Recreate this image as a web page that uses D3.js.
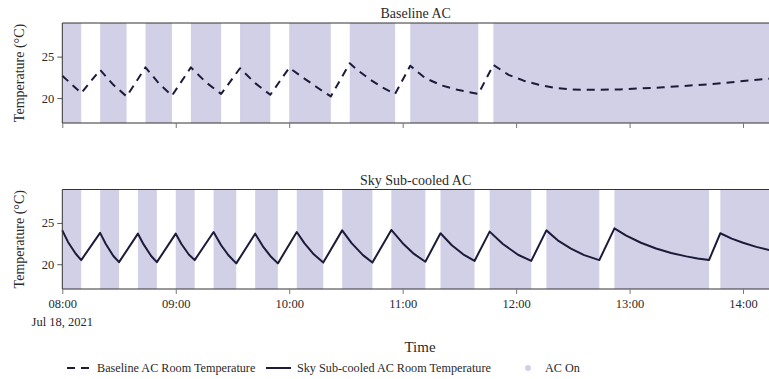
<!DOCTYPE html>
<html><head><meta charset="utf-8">
<script src="https://cdn.jsdelivr.net/npm/d3@7"></script>
<style>body{margin:0;background:#fff}svg{display:block}text{font-family:"Liberation Serif","Times New Roman",serif;fill:#2a2a2a}</style>
</head><body><svg id="c" width="769" height="379"></svg>
<script>
const baselineTimes = ["08:00","08:10","08:20","08:27","08:34","08:44","08:51","08:58","09:08","09:16","09:24","09:34","09:42","09:50","10:00","10:09","10:16","10:22","10:32","10:36","10:43","10:50","10:56","11:04","11:12","11:21","11:29","11:40","11:48","11:56","12:04","12:12","12:20","12:29","12:37","12:55","13:18","13:44","14:14"];
const baselineTemps = [22.7,20.6,23.4,21.6,20.2,23.7,21.8,20.3,23.7,21.9,20.5,23.6,21.8,20.4,23.65,22.2,21.1,20.2,24.2,23.4,22.2,21.2,20.5,23.9,22.4,21.5,21.0,20.5,24.0,22.8,22.1,21.6,21.25,21.05,21.0,21.05,21.3,21.7,22.35];
const skyTimes = ["08:00","08:03","08:07","08:10","08:20","08:23","08:27","08:30","08:40","08:43","08:47","08:50","09:00","09:03","09:07","09:10","09:20","09:24","09:28","09:32","09:42","09:46","09:50","09:54","10:04","10:08","10:13","10:18","10:28","10:33","10:39","10:44","10:54","11:00","11:06","11:12","11:20","11:26","11:32","11:38","11:46","11:53","12:01","12:08","12:16","12:22","12:29","12:36","12:44","12:52","12:58","13:06","13:14","13:22","13:30","13:36","13:42","13:48","13:54","14:00","14:07","14:14"];
const skyTemps = [24.1,22.7,21.3,20.5,23.8,22.45,21.0,20.25,23.7,22.4,21.0,20.25,23.7,22.45,21.15,20.5,23.9,22.3,21.05,20.1,23.7,22.2,21.0,20.1,23.9,22.55,21.2,20.2,24.1,22.55,21.1,20.2,24.15,22.55,21.25,20.3,23.75,22.3,21.2,20.4,23.95,22.45,21.15,20.4,24.1,22.9,21.9,21.1,20.5,24.35,23.5,22.6,21.9,21.35,20.95,20.7,20.5,23.75,23.1,22.6,22.1,21.7];
const baselineOnStart = ["08:00","08:20","08:44","09:08","09:34","10:00","10:32","11:04","11:48"];
const baselineOnEnd   = ["08:10","08:34","08:58","09:24","09:50","10:22","10:56","11:40","14:14"];
const skyOnStart = ["08:00","08:20","08:40","09:00","09:20","09:42","10:04","10:28","10:54","11:20","11:46","12:16","12:52","13:48"];
const skyOnEnd   = ["08:10","08:30","08:50","09:10","09:32","09:54","10:18","10:44","11:12","11:38","12:08","12:44","13:42","14:14"];
const yTicks = [20, 25];
const xTickTimes = ["08:00","09:00","10:00","11:00","12:00","13:00","14:00"];
const panelTitles = ["Baseline AC", "Sky Sub-cooled AC"];
const legendLabels = ["Baseline AC Room Temperature", "Sky Sub-cooled AC Room Temperature", "AC On"];

const parse = s => d3.timeParse("%Y-%m-%d %H:%M")("2021-07-18 " + s);
const svg = d3.select("#c");
const shade = "#d1d0e7", lineCol = "#1c1b3a", axisCol = "#333";
const L = 62.3, R = 769.5;
const x = d3.scaleTime().domain([parse("08:00"), parse("14:14")]).range([L, R]);
const panels = [
  {top: 23, bottom: 123, times: baselineTimes, temps: baselineTemps, on: [baselineOnStart, baselineOnEnd], dash: "8,6", title: panelTitles[0]},
  {top: 189.5, bottom: 289, times: skyTimes, temps: skyTemps, on: [skyOnStart, skyOnEnd], dash: null, title: panelTitles[1]}
];
panels.forEach((p, i) => {
  const y = d3.scaleLinear().domain([17, 29.05]).range([p.bottom, p.top]);
  const g = svg.append("g");
  g.selectAll("rect.on").data(p.on[0].map((s, k) => [s, p.on[1][k]])).join("rect")
    .attr("x", d => x(parse(d[0]))).attr("width", d => x(parse(d[1])) - x(parse(d[0])))
    .attr("y", p.top).attr("height", p.bottom - p.top).attr("fill", shade);
  const data = p.times.map((t, k) => [parse(t), p.temps[k]]);
  g.append("path").datum(data)
    .attr("d", d3.line().x(d => x(d[0])).y(d => y(d[1])))
    .attr("fill", "none").attr("stroke", lineCol).attr("stroke-width", 2)
    .attr("stroke-linejoin", "round")
    .attr("stroke-dasharray", p.dash);
  g.append("line").attr("x1", L).attr("x2", R).attr("y1", p.top).attr("y2", p.top).attr("stroke", axisCol);
  g.append("line").attr("x1", L).attr("x2", R).attr("y1", p.bottom).attr("y2", p.bottom).attr("stroke", axisCol);
  g.append("line").attr("x1", L).attr("x2", L).attr("y1", p.top).attr("y2", p.bottom).attr("stroke", axisCol);
  const ya = g.append("g").attr("transform", `translate(${L},0)`)
    .call(d3.axisLeft(y).tickValues(yTicks).tickSize(5).tickPadding(3));
  ya.select(".domain").remove();
  ya.selectAll("line").attr("stroke", "#555");
  ya.selectAll("text").attr("font-size", 12.5).attr("font-family", "Liberation Serif").attr("fill", "#333");
  const xa = g.append("g").attr("transform", `translate(0,${p.bottom})`)
    .call(d3.axisBottom(x).tickValues(xTickTimes.map(parse)).tickSize(5).tickFormat(i === 1 ? d3.timeFormat("%H:%M") : ""));
  xa.select(".domain").remove();
  xa.selectAll("line").attr("stroke", "#777");
  xa.selectAll("text").attr("font-size", 12.5).attr("font-family", "Liberation Serif").attr("fill", "#333").attr("dy", "0.9em");
  svg.append("text").attr("x", (L + 769) / 2).attr("y", p.top - 5).attr("text-anchor", "middle")
    .attr("font-size", 14).text(p.title);
  svg.append("text").attr("transform", `translate(24,${(p.top + p.bottom) / 2}) rotate(-90)`)
    .attr("text-anchor", "middle").attr("font-size", 14).text("Temperature (°C)");
});
svg.append("text").attr("x", x(parse("08:00"))).attr("y", 326).attr("text-anchor", "middle")
  .attr("font-size", 12.5).attr("fill", "#333").text("Jul 18, 2021");
svg.append("text").attr("x", 420).attr("y", 352).attr("text-anchor", "middle")
  .attr("font-size", 15).text("Time");
const lg = svg.append("g");
const ly = 368;
lg.append("line").attr("x1", 67).attr("x2", 91).attr("y1", ly).attr("y2", ly)
  .attr("stroke", lineCol).attr("stroke-width", 2).attr("stroke-dasharray", "8,6");
lg.append("text").attr("x", 97).attr("y", ly + 4).attr("font-size", 12.2).text(legendLabels[0]);
lg.append("line").attr("x1", 266).attr("x2", 291).attr("y1", ly).attr("y2", ly)
  .attr("stroke", lineCol).attr("stroke-width", 2);
lg.append("text").attr("x", 297).attr("y", ly + 4).attr("font-size", 12.2).text(legendLabels[1]);
lg.append("circle").attr("cx", 528).attr("cy", ly).attr("r", 3).attr("fill", shade);
lg.append("text").attr("x", 545).attr("y", ly + 4).attr("font-size", 12.2).text(legendLabels[2]);
</script></body></html>
